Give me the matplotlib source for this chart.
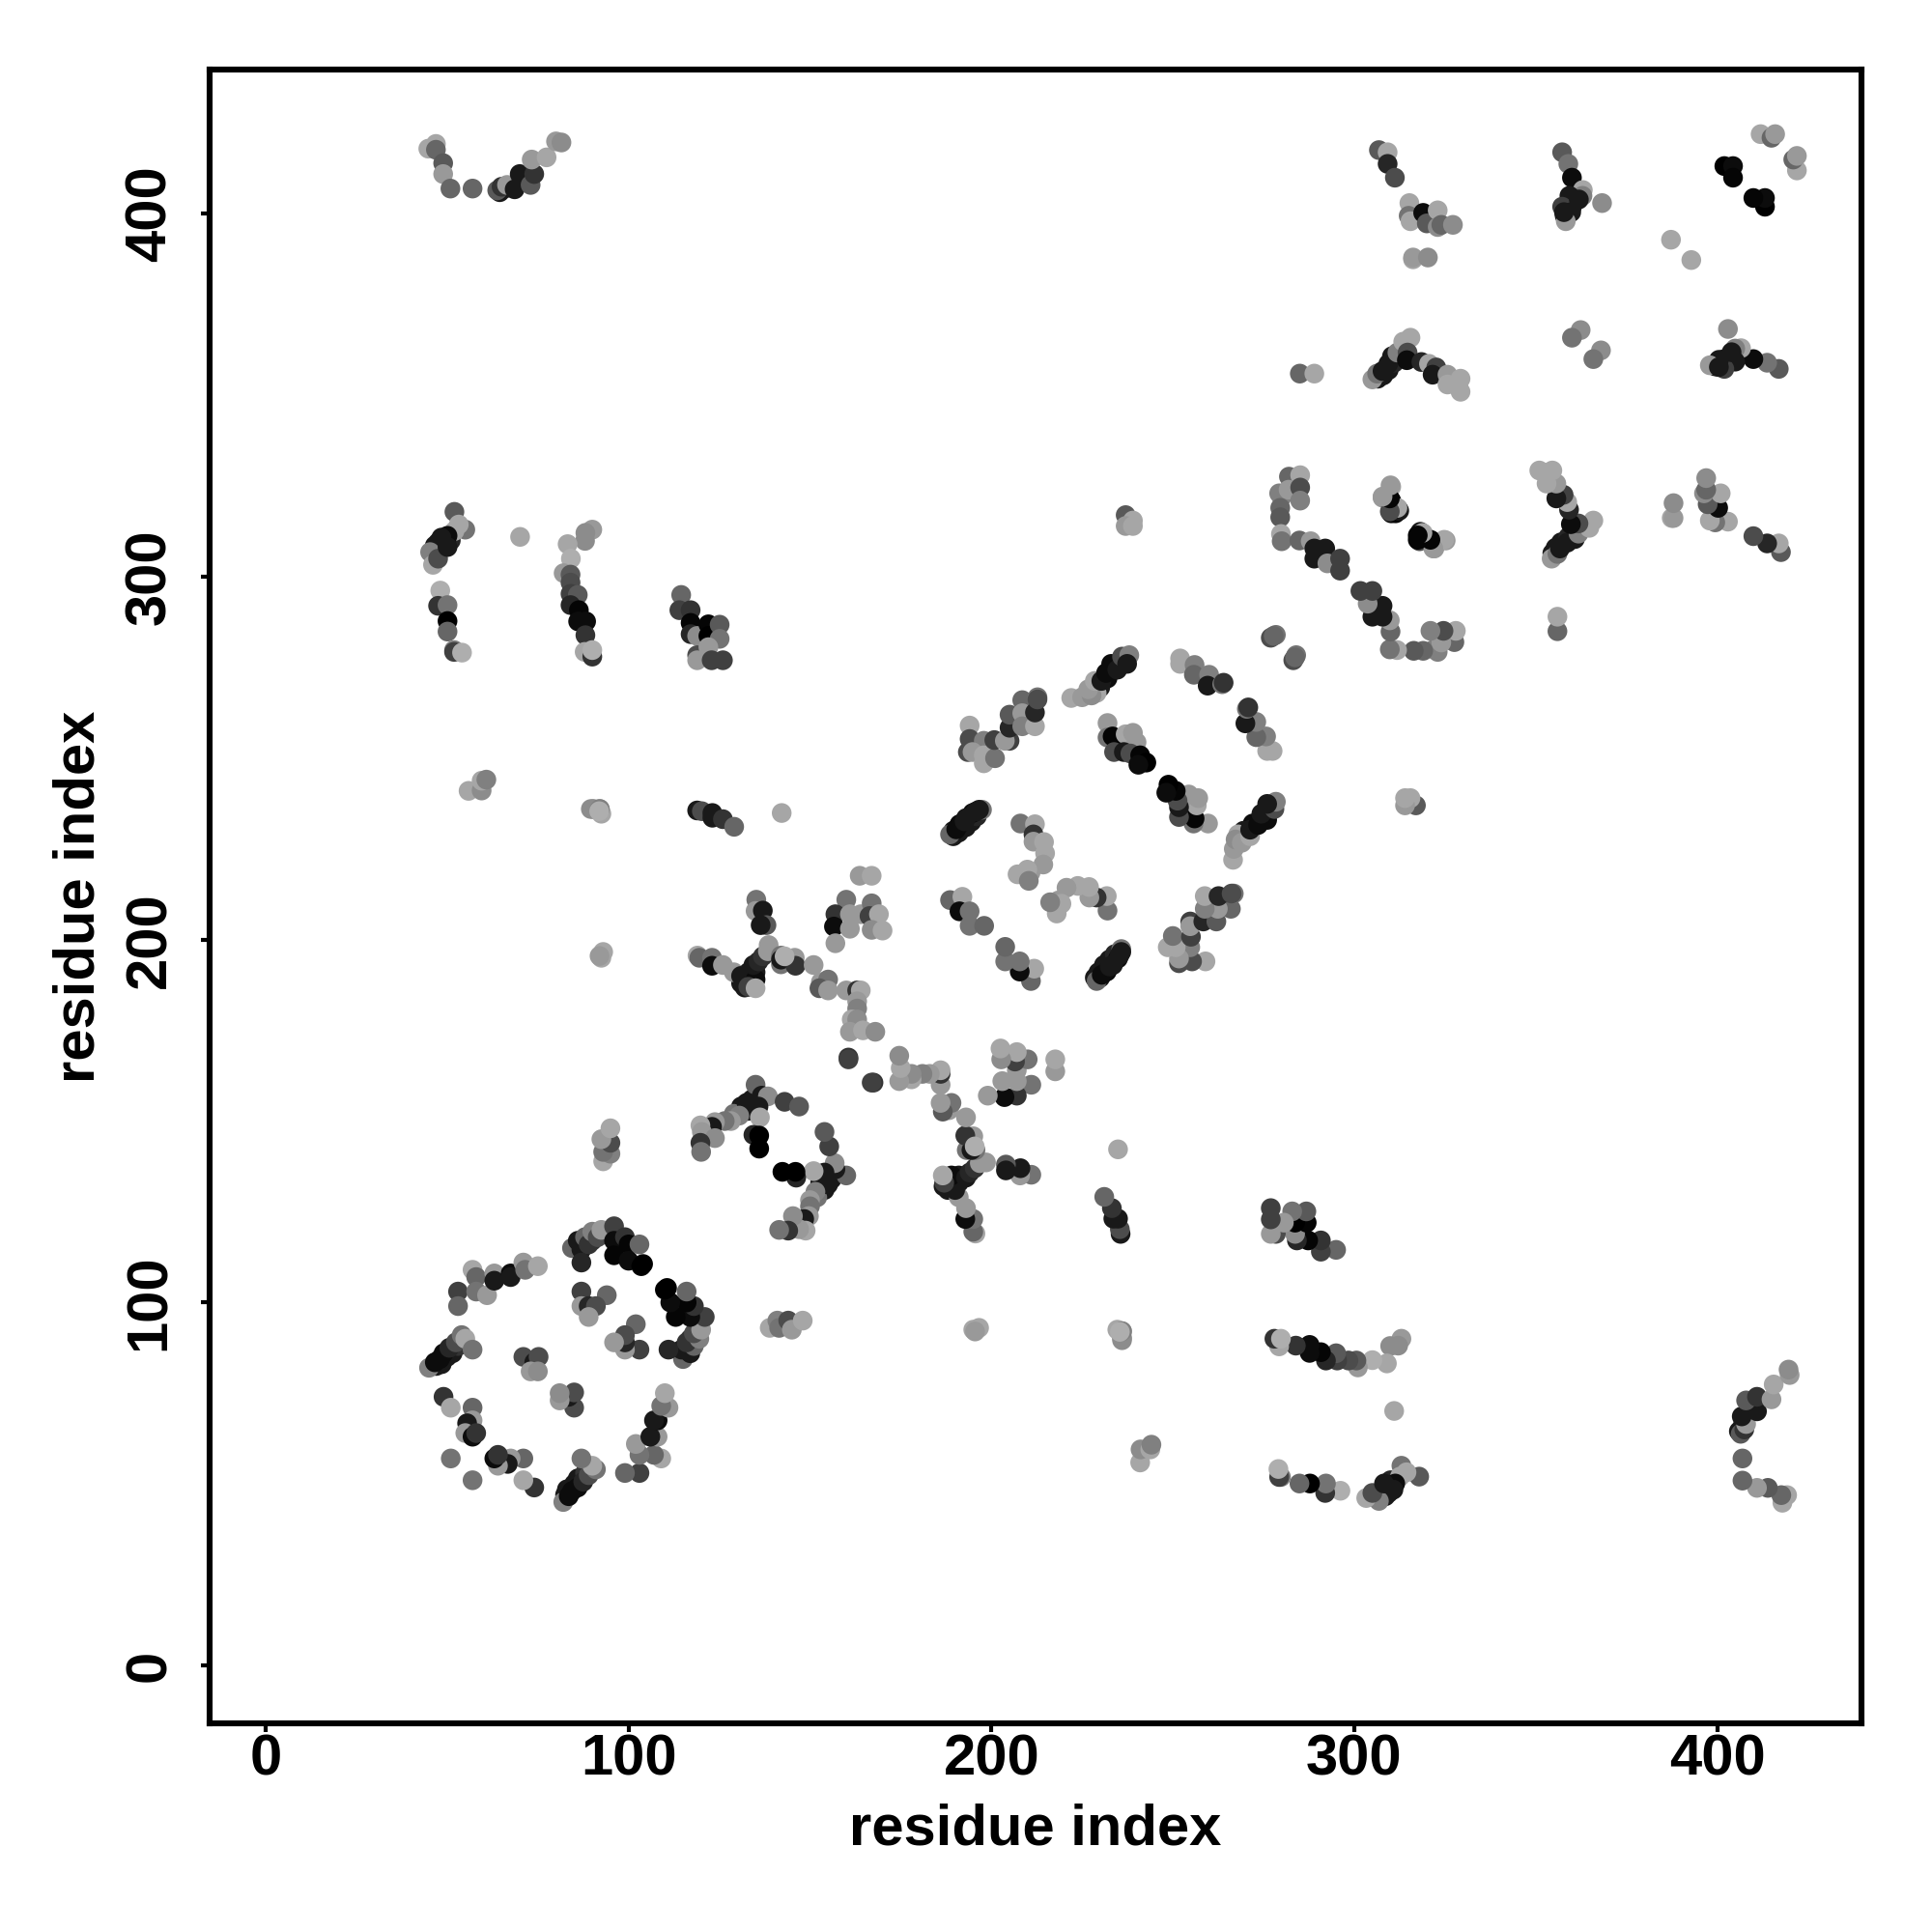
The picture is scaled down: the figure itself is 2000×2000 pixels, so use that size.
import numpy as np
import matplotlib
matplotlib.use('Agg')
import matplotlib.pyplot as plt

plt.rcParams['font.family'] = ['Liberation Sans', 'DejaVu Sans']
plt.rcParams['font.weight'] = 'bold'

# contacts as (residue i, residue j, grey level), i < j
# the map is symmetric so only one half is listed
ring_a = [(53,103,.25),(53,99,.4),(57,109,.65),(58,107,.4),(58,103,.45),(61,102,.6),(63,108,.6),(63,106,.1),
          (67.5,108,.05),(67.5,107,.1),(71,111,.6),(71.5,109,.45),(75,110,.65)]
ring_b = [(85.5,115.5,.15),(88,116,.15),(90,117,.2),
          (84.4,115,.4),(86,117,.1),(87,114.6,.1),(87,111,.15),(88,118,.4),(89,116,.2),(90,119.5,.5),(91.5,118,.3),
          (92.5,120,.6),(96,121,.25),(96,117,.05),(96,113,.02),(99,118,.2),(100,116,.02),(100,111.5,.05),(103,116,.4),
          (103.5,110,0),(104,110.6,0)]
ring_c = [(47,82.5,.1),(48.5,83,.1),(50,85,.1),(51.5,86,.1),(53,88,.2),
          (45,82,.5),(46.6,83.5,.05),(48,84.4,.05),(49,86,.05),(50.6,87.5,.15),(52.4,89,.3),(54,91,.45),(55,90,.65),(57,87,.45)]
ring_d = [(71,85,.3),(74,83.5,.1),(75.2,85,.3),(73,81,.6),(75,81,.55),(87,103,.25),(94,102,.4),(87,99,.6),(89,99,.15),
          (91,99,.3),(89,96,.6)]
ring_e = [(49,74,.2),(51,71,.65),(57,71,.4),(57,67.5,.6),(55.5,66.7,.1),(55,64,.6),(57,63,.05),(58,64,.2),(51,57,.45)]

star_a = [(131,188,.1),(133,191,.1),(135,191,.1),(132,186.8,.1),
          (135.2,211,.45),(135,207.9,.6),(137,208,.1),(138,204,.35),(136.4,204,.1),(119,195.6,.65),(119.5,195,.4),
          (123,195,.45),(123,192.8,.05),(126,193,.6),(129,191,.6),(131,190,.1),(133,189,.1),(135,189,.05),(133,187,.25),
          (135,186.6,.65),(134.4,193,.1),(135.8,194,.15),(137,195.4,.2),(138.6,198.5,.6),(138.4,196.8,.6),(142,195.6,.45),
          (142,193.2,.45),(142,194.5,.1),(145.8,195,.6),(146,192.8,.2),(143,195.4,.68)]
chain_a = [(151,193,.6),(153,188.3,.6),(155,189,.45),(152.6,186.6,.35),(155,186,.6),(160,186,.6),(163,186,.2),(164,186,.65),
           (163,183,.6),(163,181,.5),(161.5,178,.65),(163,178,.55),(161,174.6,.6),(164.6,175,.65),(168,174.6,.55),
           (160.6,167.5,.2),(160.6,167,.25)]
top_group = [(160,211,.45),(157,207,.2),(156.6,203.6,.05),(157,199,.6),(161,207,.6),(161,203,.6),(164,207,.6),(167,210,.45),
             (166.4,206.5,.25),(169,207,.65),(167,202.7,.55),(170,202.5,.65),(163.7,217.6,.6),(167,217.6,.65)]
arc_a = [(131,154,.1),(134,156,.1),(129,152,.45),
         (135,160,.4),(136.7,157,.1),(138.4,156.8,.55),(143,155.3,.25),(147,154,.35),(132.5,155,.1),(133,152.8,.1),
         (135.8,154,.1),(130.5,151.5,.5),(128.2,150,.6),(126.5,150,.45),(123.8,149.7,.6),(123,148.4,.1),(119.8,148.8,.65),
         (120.2,147,.6),(123.8,145.3,.55),(119.8,144,.2),(120,141.5,.45),(136.2,151,.65),(134.4,146.2,.15),(136,146,0),(136,142.4,0)]
far_a = [(93,138.9,.65),(95,141,.5),(93,141.5,.45),(95,144,.3),(92.5,145,.6),(95,148,.65),(92.5,195,.65),(93,196.6,.65),
         (92,195.5,.6),(92,236,.55),(90.3,236,.5),(92.5,234.7,.65)]
far_b = [(194,259,.65),(194,255.3,.3),(193.5,251.7,.3),(197.9,254.8,.5),(194.8,251.7,.6),(197.9,250.8,.65),(197.9,248.6,.65),
         (201,250,.45),(200.8,255,.25),(205,254.8,.25),(203.7,254.8,.6),(205,258.4,.15),(205,262,.35),(208.5,266,.4),
         (208.5,262.4,.6),(208.5,258.8,.5),(212,258.8,.65),(212,262.6,.15),(212.7,266.8,.45),(212.7,266.2,.3)]
strand_a = [(232,272,.05),(233,274,.05),(235,276,.05),(230,269.5,.1),(229,268,.65),
            (222,266.6,.65),(225,266.8,.6),(227.6,267.3,.55),(226.7,269,.6),(228.5,271.3,.65),(230.3,271.3,.1),(231.6,273.5,.05),
            (233,276,.05),(234.7,274.4,.1),(236,278,.3),(238,278.4,.5),(237.4,276,.1)]
strand_b = [(252,277.5,.65),(252,276,.65),(256,275.7,.5),(255.8,273,.4),(260,273,.5),(259.6,270,.1),(263.6,270.4,.45),(264,270.8,.2),
            (277,283.2,.3),(278.4,284,.45),(277.8,283.7,.4)]
strand_c = [(235,253,.1),(237,253,.05),(239,252,.05),
            (232,259.7,.6),(232,255.7,.45),(233.4,256,.02),(237,256.6,.65),(239,257,.6),(240,254.4,.6),(233.8,251.7,.3),
            (236.5,251.7,.1),(238.3,251.3,.3),(241,250.8,.02),(242.7,248.8,0),(240.5,248.2,.05)]
strand_d = [(189.5,228.5,.1),(191,229.5,.1),(193,231,.1),(194.5,232.5,.1),(196,234,.15),
            (197.4,235.8,.45),(196.6,235.8,.1),(194.8,234.9,.05),(193,233.5,.1),(191.2,231.8,.05),(189.5,230,.1),(188.6,229,.4),
            (190.3,230.4,.05),(192.6,232.6,.1),(195.7,235.3,.1)]
strand_e = [(208,232,.45),(212,231.8,.65),(211.6,229,.2),(211.6,227,.6),(214.5,226.9,.65),(214.8,223.8,.65),(214.3,220.7,.6),
            (210.8,218.5,.6),(207.2,218,.65),(209.9,219.3,.65),(210.3,216.2,.5)]
strand_f = [(188.6,210.9,.4),(192,211.8,.65),(191.2,207.8,.05),(194,207.8,.45),(194,203.8,.45),(198,203.8,.4)]

corner_a = [(306.8,417.6,.35),(309.2,417,.65),(309.2,413.8,.15),(311.2,410,.3),(315.2,403,.65),(315,399.5,.45),(315.5,398,.65),
            (319,400.3,.05),(320,397.4,.35),(323,401,.65),(323,396.4,.55),(324,397,.4),(327.2,397,.55),(316.2,387.5,.65),
            (316.2,388,.6),(320.3,388,.55)]
corner_b = [(358.5,402,.1),(358,399.5,.1),(360,402,.1),
            (357.3,417,.35),(359,413.8,.45),(360,410,.05),(363,406.6,.65),(362.9,405,.5),(359.3,405,.1),(357.3,402,.25),
            (359.8,400.5,.1),(358.3,398,.6),(361.9,404,.1),(357.8,400.5,.1),(368.3,403,.55)]
corner_c = [(402,413.2,0),(404.4,413.2,.05),(404.4,410,.02),(412,422,.65),(415,421,.4),(416,422,.6),(387.3,392.9,.65)]
corner_d = [(306.5,354.6,.1),(308,355.5,.1),(309.5,357,.1),(311,359,.15),
            (285,356,.4),(289,356,.65),(305,354.4,.6),(306.3,356,.45),(307.8,356.7,.1),(309.4,358.7,.1),(310.4,360.8,.1),
            (311.9,361.8,.5),(313.5,364.8,.65),(315.5,365.9,.65),(314.7,361.8,.3),(314.5,359.7,.05),(318.5,359.2,.15),
            (320.6,358.7,.65),(322.6,357.7,.25),(321.6,355.7,.1),(325.7,355.7,.6),(325.7,353,.65),(329.3,354.6,.65),
            (329.3,351,.65),(328.7,352.6,.65),(362.4,368,.55),(360,365.9,.45)]
corner_e = [(280,322,.5),
            (282,327.6,.4),(285.1,328,.65),(279.3,323,.5),(281.9,324,.6),(285.1,324.6,.3),(285.1,321,.5),(279.6,319,.4),
            (279.6,316.4,.35),(279.8,311.8,.65),(280,309.8,.45),(284.9,310,.4),(288,309.8,.6),(289,307.8,.1),(292,307.8,.1),
            (289,305,.1),(292.6,303.7,.55),(296.1,305,.25),(296.1,301.7,.25)]
corner_f = [(310.5,319,.02),
            (310.2,324.8,.65),(307.8,321.8,.6),(310.2,321,.02),(310.2,317.5,.02),(312.1,318.8,.65),(311.4,317.5,.02),
            (318.2,312.4,.1),(319,311.9,.65),(318,309.8,.3),(321.6,309.8,.02),(322.1,307.8,.6),(325.2,310,.6)]

left_a = [(47,307,.1),(49,309,.1),(51,310,.15),
          (52,317.9,.35),(55,313,.45),(53.2,314.4,.65),(52,312.6,.65),(50.1,311.3,.05),(48.4,310.8,.1),(47.5,309.5,.1),
          (46.6,308.6,.1),(48.4,308,.1),(45.3,306.8,.5),(46.1,303.3,.65),(47.5,305,.3),(50.1,308.2,.1)]
left_b = [(48.1,296.2,.68),(47.5,292,.2),(50.1,292.2,.45),(50.1,287.8,0),(50.1,284.9,.4),(51.9,279.8,.5),(51.9,279.3,.25),
          (54.1,279.1,.68),(70.1,311,.65)]
left_c = [(90,313,.6),(88.1,312.1,.55),(88,309.9,.55),(83.2,309,.65),(84.1,305,.68),(82.1,301,.6),(84,300.6,.35),(84,298.4,.3),
          (84,295.3,.25),(86,295,.35),(84,292.2,.15),(86.3,290.8,.02),(86.1,287.7,.05),(88.3,287.7,.05),(88.1,283.9,.2),
          (87.9,279.3,.65),(90,278,.2),(90,279.8,.68)]
left_d = [(114.5,295,.4),(114,290.8,.25),(117.1,290.8,.2),(117.1,287.3,.02),(117.1,284.2,.15),(118.9,283.7,.55),(118.9,278.4,.3),
          (118.9,277,.6),(122,286.9,.02),(122,283.7,0),(125.1,286.8,.35),(125.1,282.9,.45),(122,280.6,.6),(122.9,277,.25),(126,277,.25)]
left_e = [(55.9,241,.65),(59.5,241.1,.55),(59.5,243.8,.65),(60.8,244.1,.5),(89.6,236,.55),(92.1,236,.5),(91.9,235.4,.68)]
left_f = [(118.9,235.6,.1),(120.2,235.4,.3),(123.1,234.9,.1),(123.1,233.6,.1),(126,233.2,.2),(129.1,231.1,.4),(142.2,234.9,.65)]
left_g = [(66,407,.3),(64.5,406,.1),(69,408,.2),
          (44.8,418,.65),(46.9,419.3,.65),(46.9,417.7,.4),(48.9,414,.35),(48.9,411,.6),(50.9,407,.4),(57,407,.4),(63.8,406.5,.35),
          (65,407.5,.2),(66.5,408,.6),(68.6,406.8,.1),(70,411,.1),(73,408,.35),(74,411,.2),(73.3,415,.6),(77.4,415.6,.65),
          (80,420,.6),(81.5,419.7,.55)]
mid_a = [(237,317,.35),(239,315.5,.65),(237,314,.6),(239,314,.65)]

all_contacts = (ring_a + ring_b + ring_c + ring_d + ring_e + star_a + chain_a + top_group + arc_a + far_a + far_b
                + strand_a + strand_b + strand_c + strand_d + strand_e + strand_f + corner_a + corner_b + corner_c
                + corner_d + corner_e + corner_f + left_a + left_b + left_c + left_d + left_e + left_f + left_g + mid_a)

tick_values = [0, 100, 200, 300, 400]

contacts = np.array(all_contacts)
res_i = contacts[:, 0]
res_j = contacts[:, 1]
grey = contacts[:, 2]

fig = plt.figure(figsize=(10, 10), dpi=200)
ax = fig.add_axes([216.5 / 2000, 1 - 1784 / 2000, 1710.5 / 2000, 1712 / 2000])

ax.scatter(res_i, res_j, c=grey, cmap='gray', vmin=0, vmax=1, s=54, linewidths=0)
ax.scatter(res_j, res_i, c=grey, cmap='gray', vmin=0, vmax=1, s=54, linewidths=0)

ax.set_xlim(-15.6, 439.8)
ax.set_ylim(-16, 439.8)
ax.set_xticks(tick_values)
ax.set_yticks(tick_values)
ax.tick_params(axis='x', length=3.2, width=1.5, labelsize=21.5, pad=0.5)
ax.tick_params(axis='y', length=3.2, width=1.5, labelsize=21.5, pad=8.8)
for lab in ax.get_yticklabels():
    lab.set_rotation(90)
    lab.set_va('center')
for s in ax.spines.values():
    s.set_linewidth(2.2)

ax.set_xlabel('residue index', fontsize=21.5, fontweight='bold', labelpad=6.3)
ax.set_ylabel('residue index', fontsize=21.5, fontweight='bold', labelpad=6.8)

fig.savefig('out.png', dpi=200)
